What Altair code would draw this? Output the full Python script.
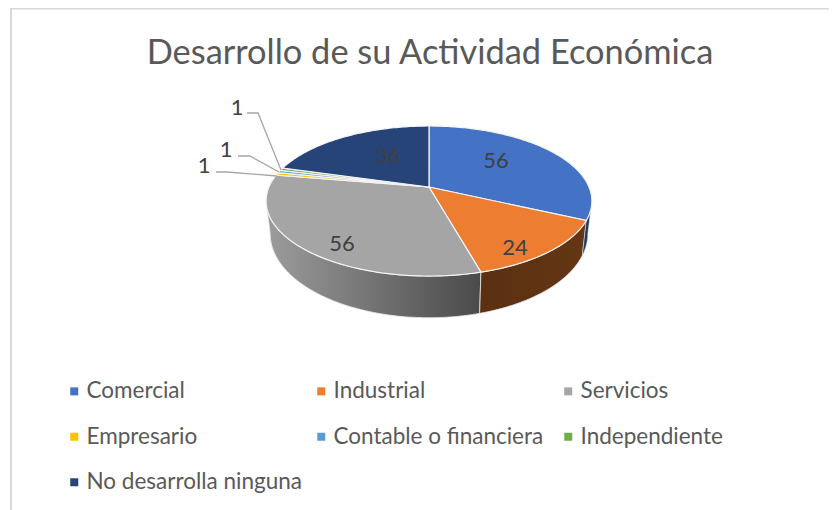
import math
import altair as alt

# ---- data ----
categories = ["Comercial", "Industrial", "Servicios", "Empresario",
              "Contable o financiera", "Independiente", "No desarrolla ninguna"]
values = [56, 24, 56, 1, 1, 1, 36]
colors = ["#4472C4", "#ED7D31", "#A5A5A5", "#FFC000", "#5B9BD5", "#70AD47", "#264478"]
title_text = "Desarrollo de su Actividad Económica"

# ---- layout (image pixels) ----
CX, CY = 429.0, 187.0       # apex of the pie
A, B, K = 160.0, 72.4, 0.187  # perspective of the top face
WALL_SX, WALL_SY, WALL_DY = 0.975, 1.12, 31.0
LEFT_EXT, RIGHT_EXT = 259.2, 100.8   # silhouette angles

label_xy = {0: (496, 161), 1: (515, 248), 2: (342, 244), 6: (388, 156)}
small_label_xy = {3: (204, 166), 4: (226, 150), 5: (237, 108)}
leaders = {
    3: [(216, 172), (227, 172), (277, 176)],
    4: [(238, 156), (250, 156), (279, 172)],
    5: [(247, 113), (258, 113), (281, 170)],
}

W, H = 821, 502
BORDER = "#D9D9D9"
TEXT = "#404040"
GREY = "#595959"
FONT = "Lato"


def top_pt(deg):
    t = math.radians(deg)
    x, y = math.sin(t), -math.cos(t)
    d = 1 - K * y
    return (A * x / d, B * y / d)


def top_abs(deg):
    X, Y = top_pt(deg)
    return [CX + X, CY + Y]


def bottom_abs(deg):
    X, Y = top_pt(deg)
    return [CX + WALL_SX * X, CY + WALL_DY + WALL_SY * Y]


def arc_angles(a0, a1, step=1.0):
    n = max(2, int(abs(a1 - a0) / step) + 1)
    return [a0 + (a1 - a0) * i / (n - 1) for i in range(n)]


total = sum(values)
starts, ends = [], []
acc = 0
for v in values:
    starts.append(acc / total * 360)
    acc += v
    ends.append(acc / total * 360)


def feature(name, ring):
    ring = list(ring) + [ring[0]]
    return {"type": "Feature", "properties": {"name": name},
            "geometry": {"type": "Polygon", "coordinates": [ring]}}


top_features = [
    feature(c, [[CX, CY]] + [top_abs(a) for a in arc_angles(s, e)])
    for c, s, e in zip(categories, starts, ends)
]


def wall(name, a0, a1):
    angs = arc_angles(a0, a1)
    return feature(name, [top_abs(a) for a in angs] + [bottom_abs(a) for a in reversed(angs)])


proj = dict(type="identity", scale=1, translate=[-8, -8])


def geo(features):
    return alt.InlineData(values={"type": "FeatureCollection", "features": features},
                          format=alt.DataFormat(property="features", type="json"))


def grad(c0, c1):
    return alt.Gradient(gradient="linear", x1=0, x2=1, y1=0, y2=0,
                        stops=[alt.GradientStop(color=c0, offset=0),
                               alt.GradientStop(color=c1, offset=1)])


wall_grey = alt.Chart(geo([wall("Servicios", ends[1], LEFT_EXT)])).mark_geoshape(
    fill=grad("#9C9C9C", "#4A4A4A"), stroke="#E8E8E8", strokeWidth=0.8).project(**proj)
wall_orange = alt.Chart(geo([wall("Industrial", ends[0], ends[1])])).mark_geoshape(
    fill=grad("#5A3010", "#643614"), stroke="#E8E8E8", strokeWidth=0.8).project(**proj)
wall_blue = alt.Chart(geo([wall("Comercial", RIGHT_EXT, ends[0])])).mark_geoshape(
    fill="#203864", stroke="#E8E8E8", strokeWidth=0.5).project(**proj)

top = alt.Chart(geo(top_features)).mark_geoshape(stroke="#F4F4F4", strokeWidth=1.2).encode(
    fill=alt.Fill(
        "properties.name:N",
        scale=alt.Scale(domain=categories, range=colors),
        sort=None,
        legend=alt.Legend(
            title=None, orient="none", legendX=55, legendY=372,
            direction="horizontal", columns=3, gridAlign="all",
            symbolType="square", symbolSize=64, symbolStrokeWidth=0,
            labelFont=FONT, labelFontSize=22.5, labelColor=GREY, labelLimit=400,
            columnPadding=8, rowPadding=22.5, labelOffset=1, padding=0,
        ),
    )
).project(**proj)

xs = alt.X("x:Q", scale=alt.Scale(domain=[8, 8 + W], nice=False, zero=False), axis=None)
ys = alt.Y("y:Q", scale=alt.Scale(domain=[8 + H, 8], nice=False, zero=False), axis=None)

big_rows = [{"x": label_xy[i][0], "y": label_xy[i][1], "t": str(values[i])} for i in label_xy]
big = alt.Chart(alt.Data(values=big_rows)).mark_text(
    font=FONT, fontSize=22, color=TEXT, align="center", baseline="middle"
).encode(x=xs, y=ys, text="t:N")

small_rows = [{"x": small_label_xy[i][0], "y": small_label_xy[i][1], "t": str(values[i])} for i in small_label_xy]
small = alt.Chart(alt.Data(values=small_rows)).mark_text(
    font=FONT, fontSize=22, color=TEXT, align="center", baseline="middle"
).encode(x=xs, y=ys, text="t:N")

leader_rows = [{"x": p[0], "y": p[1], "g": i, "o": j}
               for i, pts in leaders.items() for j, p in enumerate(pts)]
leader = alt.Chart(alt.Data(values=leader_rows)).mark_line(
    color="#A6A6A6", strokeWidth=1.3
).encode(x=xs, y=ys, detail="g:N", order="o:Q")

border_rows = [{"x": 11, "y": 8 + H, "o": 0}, {"x": 11, "y": 8.5, "o": 1}, {"x": 8 + W, "y": 8.5, "o": 2}]
border = alt.Chart(alt.Data(values=border_rows)).mark_line(
    color=BORDER, strokeWidth=2
).encode(x=xs, y=ys, order="o:Q")

chart = alt.layer(border, wall_grey, wall_orange, wall_blue, top, leader, big, small).properties(
    width=W, height=H,
    padding=0,
    autosize=alt.AutoSizeParams(type="none"),
    title=alt.TitleParams(title_text, font=FONT, fontSize=34.4, fontWeight="normal",
                          color=GREY, anchor="middle", frame="group", dx=11.5, dy=67, offset=0),
).resolve_scale(x="shared", y="shared").configure_view(stroke=None)

chart.save("out.html", embed_options={"renderer": "svg", "actions": False})
